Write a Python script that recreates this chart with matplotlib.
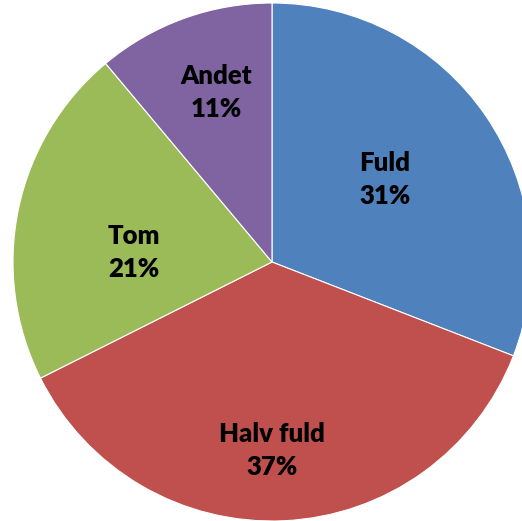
import matplotlib
matplotlib.use("Agg")
import matplotlib.pyplot as plt
import numpy as np

categories = ["Fuld", "Halv fuld", "Tom", "Andet"]
values = [30.9, 36.7, 21.3, 11.1]
colors = ["#4F81BD", "#C0504D", "#9BBB59", "#8064A2"]
# label offsets from pie centre, in units of the radius
label_off = [(0.436, 0.317), (0.0, -0.726), (-0.533, 0.035), (-0.216, 0.656)]

W, H = 522, 521
fig = plt.figure(figsize=(W / 100, H / 100), dpi=100)
ax = fig.add_axes([0, 0, 1, 1])

cx, cy, r = 272, H - 262, 259
wedges, _ = ax.pie(values, colors=colors, startangle=90, counterclock=False,
                   center=(cx, cy), radius=r,
                   wedgeprops=dict(edgecolor="white", linewidth=0.8))
ax.set_xlim(0, W)
ax.set_ylim(0, H)
ax.set_aspect("equal")
ax.axis("off")

total = sum(values)
for cat, v, (ox, oy) in zip(categories, values, label_off):
    ax.text(cx + ox * r, cy + oy * r, f"{cat}\n{round(v / total * 100)}%",
            ha="center", va="center", fontsize=18.5, fontweight="heavy",
            family="Lato", linespacing=1.45)

fig.savefig("out.png", dpi=100)
